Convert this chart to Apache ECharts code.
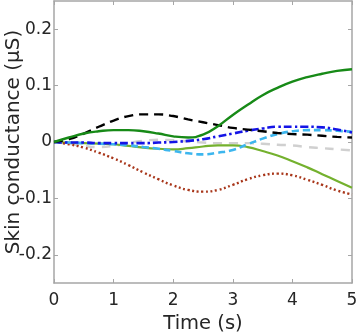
<!DOCTYPE html>
<html>
<head>
<meta charset="utf-8">
<script src="https://cdn.jsdelivr.net/npm/echarts@6/dist/echarts.min.js"></script>
<style>
  html, body { margin: 0; padding: 0; background: #fff; }
  #chart { width: 358px; height: 333px; }
</style>
</head>
<body>
<div id="chart"></div>
<script>
// Sample times (s)
const time = [0, 0.25, 0.5, 0.75, 1, 1.25, 1.5, 1.75, 2, 2.25, 2.5, 2.75, 3, 3.25, 3.5, 3.75, 4, 4.25, 4.5, 4.75, 5];

// Skin conductance responses (µS)
const darkGreen = [0, 0.008, 0.015, 0.019, 0.021, 0.021, 0.019, 0.015, 0.010, 0.008, 0.013, 0.028, 0.048, 0.066, 0.083, 0.096, 0.107, 0.115, 0.121, 0.126, 0.129];
const blackDash = [0, 0.005, 0.015, 0.027, 0.038, 0.046, 0.049, 0.049, 0.046, 0.040, 0.035, 0.030, 0.025, 0.022, 0.019, 0.016, 0.014, 0.013, 0.011, 0.009, 0.008];
const blueDashDot = [0, -0.001, -0.001, -0.002, -0.002, -0.002, -0.002, -0.001, 0.000, 0.002, 0.005, 0.010, 0.015, 0.020, 0.024, 0.027, 0.027, 0.027, 0.026, 0.022, 0.017];
const cyanDash = [0, -0.001, -0.002, -0.003, -0.004, -0.006, -0.009, -0.012, -0.016, -0.020, -0.022, -0.019, -0.014, -0.004, 0.006, 0.014, 0.019, 0.021, 0.021, 0.020, 0.018];
const greyDash = [0, -0.003, -0.007, -0.009, -0.007, -0.002, 0.002, 0.004, 0.003, 0.001, -0.001, -0.002, -0.002, -0.002, -0.003, -0.005, -0.006, -0.009, -0.011, -0.013, -0.015];
const lightGreen = [0, -0.001, -0.002, -0.003, -0.004, -0.007, -0.010, -0.012, -0.013, -0.011, -0.008, -0.006, -0.006, -0.009, -0.016, -0.024, -0.034, -0.045, -0.057, -0.069, -0.081];
const redDotted = [0, -0.004, -0.010, -0.019, -0.029, -0.041, -0.054, -0.066, -0.077, -0.085, -0.088, -0.085, -0.076, -0.066, -0.059, -0.056, -0.059, -0.067, -0.076, -0.086, -0.093];

// Axis ticks
const xTicks = [0, 1, 2, 3, 4, 5];
const yTicks = [-0.2, -0.1, 0, 0.1, 0.2];

const pairs = arr => time.map((t, i) => [t, arr[i]]);

const axisGrey = '#a6a6a6';
const textColor = '#262626';
const font = 'DejaVu Sans';

function line(data, color, type, width) {
  return {
    type: 'line',
    data: pairs(data),
    smooth: 0.5,
    showSymbol: false,
    silent: true,
    lineStyle: { color: color, width: width || 2.4, type: type, cap: 'butt' }
  };
}

function frameAxisLine() {
  return { show: true, onZero: false, lineStyle: { color: axisGrey, width: 1.5 } };
}

const chart = echarts.init(document.getElementById('chart'), null, { renderer: 'canvas' });
chart.setOption({
  animation: false,
  grid: { left: 54, right: 6, top: 1, bottom: 50, outerBoundsMode: 'none', containLabel: false },
  xAxis: [{
    type: 'value', min: 0, max: 5,
    name: 'Time (s)', nameLocation: 'middle', nameGap: 31, nameMoveOverlap: false,
    nameTextStyle: { fontFamily: font, fontSize: 19.5, color: textColor },
    axisLine: frameAxisLine(),
    axisTick: { show: true, inside: true, length: 4, customValues: xTicks, lineStyle: { color: axisGrey } },
    axisLabel: { fontFamily: font, fontSize: 17, color: textColor, margin: 9, customValues: xTicks },
    splitLine: { show: false }
  }, {
    type: 'value', min: 0, max: 5, position: 'top',
    axisLine: frameAxisLine(),
    axisTick: { show: true, inside: true, length: 4, customValues: xTicks, lineStyle: { color: axisGrey } },
    axisLabel: { show: false, customValues: xTicks },
    splitLine: { show: false }
  }],
  yAxis: [{
    type: 'value', min: -0.25, max: 0.25,
    name: 'Skin conductance (µS)', nameLocation: 'middle', nameGap: 30, nameMoveOverlap: false,
    nameTextStyle: { fontFamily: font, fontSize: 20, color: textColor },
    axisLine: frameAxisLine(),
    axisTick: { show: true, inside: true, length: 4, customValues: yTicks, lineStyle: { color: axisGrey } },
    axisLabel: { fontFamily: font, fontSize: 17, color: textColor, margin: 2, customValues: yTicks },
    splitLine: { show: false }
  }, {
    type: 'value', min: -0.25, max: 0.25, position: 'right',
    axisLine: frameAxisLine(),
    axisTick: { show: true, inside: true, length: 4, customValues: yTicks, lineStyle: { color: axisGrey } },
    axisLabel: { show: false, customValues: yTicks },
    splitLine: { show: false }
  }],
  series: [
    line(greyDash, '#d0d0d0', [9, 7], 2.4),
    line(lightGreen, '#74b12e', 'solid', 2.2),
    line(redDotted, '#a8361a', [2, 2.6], 2.4),
    line(cyanDash, '#3db6ee', [7, 4], 2.6),
    line(blueDashDot, '#1414e6', [8, 3, 2.5, 3], 2.6),
    line(blackDash, '#000000', [9, 6], 2.4),
    line(darkGreen, '#178a17', 'solid', 2.4)
  ]
});
</script>
</body>
</html>
